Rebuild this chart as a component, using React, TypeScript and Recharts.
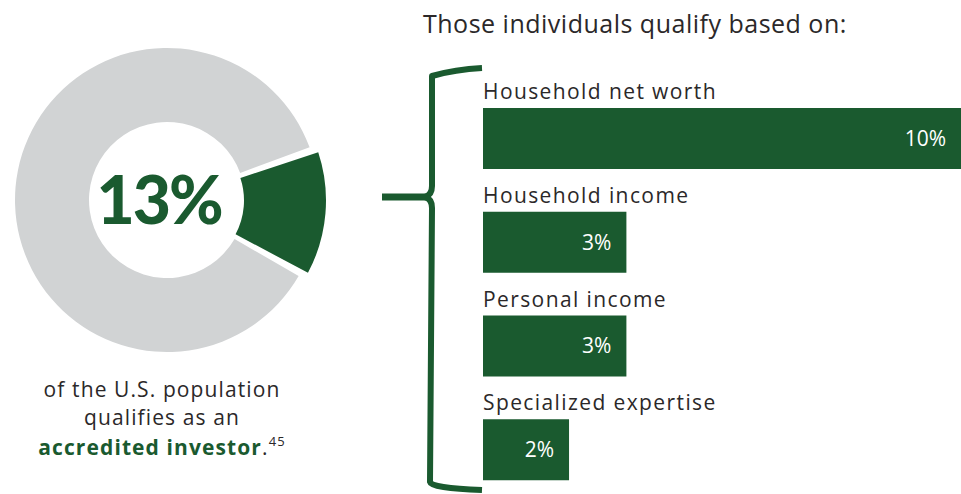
import { Bar, BarChart, Cell, LabelList, Pie, PieChart, XAxis, YAxis } from "recharts";

const GREEN = "#1a5a2f";
const GREY = "#d1d3d4";
const INK = "#2b2829";
const FONT = "'Open Sans', Lato, sans-serif";
const HEAVY = "Lato, 'Open Sans', sans-serif";

// donut: share of the US population
const shareNames = ["Accredited investors", "Everyone else"];
const shareValues = [13, 87];
const headline = "13%";

// breakdown of qualifying reasons
const reasons = ["Household net worth", "Household income", "Personal income", "Specialized expertise"];
const reasonValues = [10, 3, 3, 1.8];
const reasonLabels = ["10%", "3%", "3%", "2%"];

const shareData = shareNames.map((name, i) => ({ name, value: shareValues[i] }));
const reasonData = reasons.map((name, i) => ({ name, value: reasonValues[i], label: reasonLabels[i] }));

const renderName = (props: any) => {
  const { x, y, value } = props;
  return (
    <text x={Number(x)} y={Number(y) - 9} fill={INK} fontSize={21} fontFamily={FONT} letterSpacing={1.4}>
      {value}
    </text>
  );
};

export default function App() {
  return (
    <div
      style={{
        position: "absolute",
        left: 0,
        top: 0,
        width: 961,
        height: 494,
        overflow: "hidden",
        background: "#fff",
        fontFamily: FONT,
      }}
    >
      <div style={{ position: "absolute", left: 0, top: 0 }}>
        <PieChart width={340} height={360}>
          <Pie
            data={shareData}
            dataKey="value"
            nameKey="name"
            cx={162}
            cy={195}
            innerRadius={78}
            outerRadius={152}
            startAngle={-28}
            endAngle={332}
            paddingAngle={2}
            stroke="none"
            isAnimationActive={false}
          >
            <Cell fill="transparent" />
            <Cell fill={GREY} />
          </Pie>
          <Pie
            data={shareData}
            dataKey="value"
            nameKey="name"
            cx={167}
            cy={195.5}
            innerRadius={72}
            outerRadius={154}
            startAngle={-28}
            endAngle={332}
            paddingAngle={2}
            stroke="none"
            isAnimationActive={false}
          >
            <Cell fill={GREEN} />
            <Cell fill="transparent" />
          </Pie>
        </PieChart>
      </div>

      <div style={{ position: "absolute", left: 483, top: 0 }}>
        <BarChart
          layout="vertical"
          width={478}
          height={502}
          data={reasonData}
          margin={{ top: 87, right: 0, bottom: 0, left: 0 }}
        >
          <XAxis type="number" domain={[0, 10]} hide />
          <YAxis type="category" dataKey="name" hide />
          <Bar dataKey="value" fill={GREEN} barSize={61} isAnimationActive={false}>
            <LabelList dataKey="name" content={renderName} />
            <LabelList
              dataKey="label"
              position="insideRight"
              offset={15}
              fill="#fff"
              fontSize={21}
              fontFamily={FONT}
            />
          </Bar>
        </BarChart>
      </div>

      <svg
        width={961}
        height={494}
        style={{ position: "absolute", left: 0, top: 0, pointerEvents: "none" }}
      >
        <text x={159} y={224} textAnchor="middle" fill={GREEN} fontSize={66} fontWeight={900} fontFamily={HEAVY} letterSpacing={-2}>
          {headline}
        </text>
        <g fill={INK} fontSize={21} fontFamily={FONT} textAnchor="middle" letterSpacing={1.1}>
          <text x={162} y={397}>of the U.S. population</text>
          <text x={162} y={425}>qualifies as an</text>
          <text x={162} y={455}>
            <tspan fill={GREEN} fontWeight={700}>accredited investor</tspan>
            <tspan>.</tspan>
            <tspan fontSize={13} dy={-9}>45</tspan>
          </text>
        </g>
        <text x={423} y={33} fill={INK} fontSize={25} fontFamily={FONT} letterSpacing={0.5}>
          Those individuals qualify based on:
        </text>
        <g fill="none" stroke={GREEN} strokeWidth={6} strokeLinecap="butt" strokeLinejoin="round">
          <path d="M482,68 C462,69 446,72 432,76 L432,186 Q432,195 425,197" />
          <path d="M425,197 Q432,199 432,208 L430,482 Q431,488 482,490" />
          <path d="M382,197 L428,197" strokeWidth={7} />
        </g>
      </svg>
    </div>
  );
}
